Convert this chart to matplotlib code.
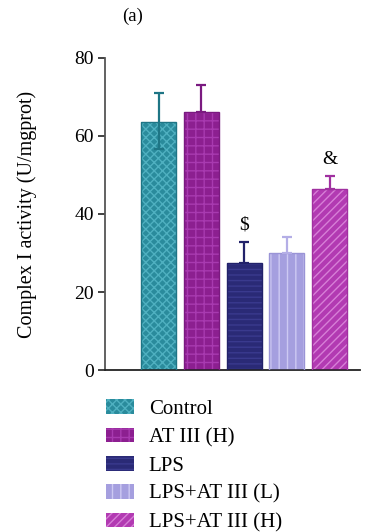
import numpy as np
import matplotlib.pyplot as plt
from matplotlib.patches import Patch

plt.rcParams['font.family'] = ['Liberation Serif', 'DejaVu Serif']
plt.rcParams['hatch.linewidth'] = 1.0

# data
groups = ['Control', 'AT III (H)', 'LPS', 'LPS+AT III (L)', 'LPS+AT III (H)']
means = [63.5, 66.1, 27.4, 30.1, 46.3]
err_up = [7.6, 7.1, 5.4, 4.1, 3.4]
err_low = [6.8, 0, 0, 0, 0]
marks = ['', '', '$', '', '&']

face = ['#2a8b9c', '#8c1f90', '#2a2a76', '#a59fdf', '#b23ab2']
hatchcol = ['#4fb0c0', '#a83ab0', '#3a3a8e', '#cdc9f3', '#d77fd7']
hatches = ['xxxx', '++', '---', '||', '////']
edge = ['#1e7585', '#7a1a80', '#22226a', '#9a94d6', '#a030a0']

fig = plt.figure(figsize=(3.82, 5.32), dpi=100)
ax = fig.add_axes([0.275, 0.3045, 0.6675, 0.5865])

x = np.arange(len(groups))
w = 0.82
handles = []
for i in range(len(groups)):
    ax.bar(x[i], means[i], w, color=face[i], edgecolor=hatchcol[i], hatch=hatches[i], linewidth=0, zorder=2)
    ax.bar(x[i], means[i], w, fill=False, edgecolor=edge[i], linewidth=1.0, zorder=3)
    ax.errorbar(x[i], means[i], yerr=[[err_low[i]], [err_up[i]]], fmt='none', ecolor=edge[i] if i != 3 else '#b4aee6',
                elinewidth=1.6, capsize=3.3, capthick=1.6, zorder=4)
    if marks[i]:
        ax.text(x[i], means[i] + err_up[i] + 2.2, marks[i], ha='center', va='bottom', fontsize=14)
    handles.append(Patch(facecolor=face[i], edgecolor=hatchcol[i], hatch=hatches[i], linewidth=0))

ax.set_xlim(-1.25, 4.71)
ax.set_ylim(0, 80)
ax.set_yticks([0, 20, 40, 60, 80])
ax.set_xticks([])
ax.tick_params(axis='y', direction='out', length=5, width=1.3, labelsize=14, pad=3, color='#333333')
for s in ['top', 'right']:
    ax.spines[s].set_visible(False)
ax.spines['left'].set_linewidth(1.3)
ax.spines['left'].set_color('#555555')
ax.spines['bottom'].set_linewidth(1.3)
ax.spines['bottom'].set_color('#222222')
ax.set_ylabel('Complex I activity (U/mgprot)', fontsize=14.5, labelpad=27)

fig.text(0.348, 0.97, '(a)', ha='center', va='center', fontsize=13.5)

fig.legend(handles=handles, labels=groups, loc='upper left', bbox_to_anchor=(0.255, 0.265),
           frameon=False, fontsize=15, handlelength=1.35, handleheight=0.7, handletextpad=0.72,
           labelspacing=0.42, borderaxespad=0)

fig.savefig('out.png', dpi=100)
